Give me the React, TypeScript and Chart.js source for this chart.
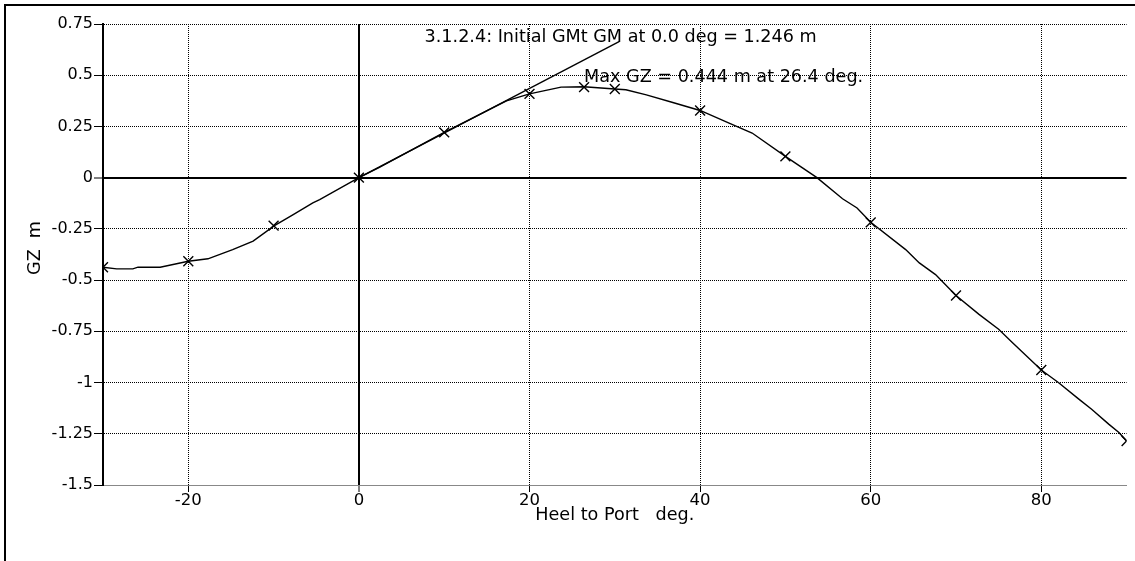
import React, { useEffect, useRef } from 'react';
import { Chart, registerables } from 'chart.js';

Chart.register(...registerables);

// GZ curve (heel deg, GZ m)
const curveX = [-30, -28.4, -26.5, -25.9, -23.3, -20, -17.7, -14.8, -12.4, -9.9, -7.7, -5.4, -4.6, 0, 2.4, 10, 17.3, 20, 23.7, 26.4, 30, 31.3, 33.7, 36.8, 40, 43.4, 46.1, 50, 53.7, 56.7, 58.4, 60, 64.1, 65.7, 67.6, 70, 72.7, 75, 76.6, 80, 82, 84.4, 85.9, 87.9, 89.1, 90];
const curveY = [-0.437, -0.445, -0.445, -0.437, -0.437, -0.408, -0.396, -0.351, -0.31, -0.234, -0.18, -0.123, -0.107, 0, 0.05, 0.221, 0.375, 0.409, 0.442, 0.444, 0.433, 0.429, 0.404, 0.367, 0.328, 0.266, 0.218, 0.104, 0, -0.103, -0.148, -0.218, -0.351, -0.416, -0.473, -0.575, -0.667, -0.74, -0.805, -0.939, -1.0, -1.081, -1.13, -1.203, -1.244, -1.285];

// Calculated points marked with x
const markerX = [-30, -20, -10, 0, 10, 20, 26.4, 30, 40, 50, 60, 70, 80, 90];
const markerY = [-0.437, -0.408, -0.234, 0, 0.221, 0.409, 0.442, 0.433, 0.328, 0.104, -0.218, -0.575, -0.939, -1.285];

// Initial GM tangent line
const tangentX = [0, 30.5];
const tangentY = [0, 0.664];

const xTickValues = [-20, 0, 20, 40, 60, 80];
const xTickLabels = ['-20', '0', '20', '40', '60', '80'];
const yTickValues = [-1.5, -1.25, -1, -0.75, -0.5, -0.25, 0, 0.25, 0.5, 0.75];
const yTickLabels = ['-1.5', '-1.25', '-1', '-0.75', '-0.5', '-0.25', '0', '0.25', '0.5', '0.75'];

const xTitle = 'Heel to Port   deg.';
const yTitle = 'GZ  m';
const gmLabel = '3.1.2.4: Initial GMt GM at 0.0 deg = 1.246 m';
const maxLabel = 'Max GZ = 0.444 m at 26.4 deg.';

const FONT = '"DejaVu Sans"';

const toPoints = (xs: number[], ys: number[]) => xs.map((x, i) => ({ x, y: ys[i] }));

const decorPlugin = {
  id: 'decor',
  afterDraw(chart: any) {
    const { ctx, chartArea } = chart;
    const xs = chart.scales.x;
    const ys = chart.scales.y;
    ctx.save();
    ctx.strokeStyle = '#000';
    ctx.fillStyle = '#000';
    ctx.lineWidth = 2;
    ctx.beginPath();
    ctx.moveTo(5, 561);
    ctx.lineTo(5, 5);
    ctx.lineTo(1135, 5);
    ctx.stroke();

    ctx.font = `17.6px ${FONT}`;
    ctx.textBaseline = 'alphabetic';
    ctx.textAlign = 'left';
    ctx.fillText(gmLabel, xs.getPixelForValue(7.7), ys.getPixelForValue(0.664));
    ctx.fillText(maxLabel, xs.getPixelForValue(26.4), ys.getPixelForValue(0.469));

    ctx.textAlign = 'center';
    ctx.fillText(xTitle, (chartArea.left + chartArea.right) / 2, 520);

    ctx.translate(40, 248);
    ctx.rotate(-Math.PI / 2);
    ctx.fillText(yTitle, 0, 0);
    ctx.restore();
  },
};

const gridDash = (c: any) => (c.tick ? (c.tick.value === 0 ? [] : [1, 1]) : []);
const gridWidth = (c: any) => (c.tick && c.tick.value === 0 ? 2 : 1);

export default function App() {
  const ref = useRef<HTMLCanvasElement | null>(null);

  useEffect(() => {
    if (!ref.current) return;
    const chart = new Chart(ref.current, {
      type: 'scatter',
      data: {
        datasets: [
          {
            label: 'GZ',
            data: toPoints(curveX, curveY),
            showLine: true,
            borderColor: '#000',
            borderWidth: 1.4,
            pointRadius: 0,
            tension: 0,
          },
          {
            label: 'points',
            data: toPoints(markerX, markerY),
            showLine: false,
            pointStyle: 'crossRot',
            pointRadius: 7,
            pointBorderColor: '#000',
            pointBorderWidth: 1.4,
            borderColor: '#000',
            clip: 0,
          },
          {
            label: 'GM',
            data: toPoints(tangentX, tangentY),
            showLine: true,
            borderColor: '#000',
            borderWidth: 1.4,
            pointRadius: 0,
          },
        ],
      } as any,
      options: {
        responsive: false,
        animation: false,
        devicePixelRatio: 1,
        events: [],
        layout: { padding: { left: 0, top: 24, right: 7, bottom: 0 } },
        plugins: { legend: { display: false }, tooltip: { enabled: false } },
        scales: {
          x: {
            type: 'linear',
            min: -30,
            max: 90,
            afterBuildTicks: (s: any) => {
              s.ticks = xTickValues.map((v) => ({ value: v }));
            },
            afterFit: (s: any) => {
              s.height = 76;
            },
            ticks: {
              color: '#000',
              font: { family: FONT, size: 16.5 },
              padding: -1,
              maxRotation: 0,
              autoSkip: false,
              callback: (v: any) => xTickLabels[xTickValues.indexOf(Number(v))],
            },
            grid: {
              color: '#000',
              lineWidth: gridWidth,
              tickLength: 7,
              tickWidth: 1,
              tickColor: '#000',
              tickBorderDash: [],
            },
            border: { display: true, color: '#888', width: 1, dash: gridDash },
          },
          y: {
            type: 'linear',
            min: -1.5,
            max: 0.75,
            afterBuildTicks: (s: any) => {
              s.ticks = yTickValues.map((v) => ({ value: v }));
            },
            afterFit: (s: any) => {
              s.width = 103;
            },
            ticks: {
              color: '#000',
              font: { family: FONT, size: 16 },
              padding: 1,
              autoSkip: false,
              callback: (v: any) => yTickLabels[yTickValues.indexOf(Number(v))],
            },
            grid: {
              color: '#000',
              lineWidth: gridWidth,
              tickLength: 9,
              tickWidth: 1,
              tickColor: '#000',
              tickBorderDash: [],
            },
            border: { display: true, color: '#000', width: 2, dash: gridDash },
          },
        },
      } as any,
      plugins: [decorPlugin],
    });
    return () => chart.destroy();
  }, []);

  return (
    <div style={{ position: 'absolute', left: 0, top: 0, width: 1135, height: 561, background: '#fff' }}>
      <canvas ref={ref} width={1135} height={561} style={{ display: 'block' }} />
    </div>
  );
}
